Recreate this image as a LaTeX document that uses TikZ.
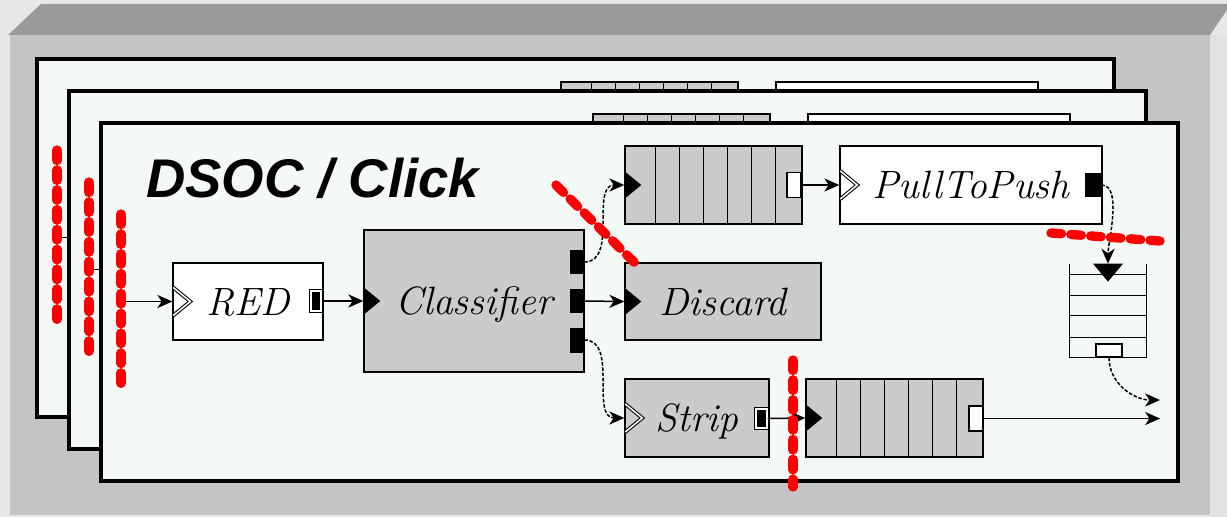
\documentclass[tikz,border=0pt]{standalone}
\usepackage{fontspec}
\newfontfamily\titlefont{Liberation Sans}
\usepackage{tikz}
\usetikzlibrary{calc,arrows.meta}
\definecolor{lidgray}{HTML}{9B9B9B}
\definecolor{panelgray}{HTML}{C4C4C4}
\definecolor{sidegray}{HTML}{E2E2E2}
\definecolor{outergray}{HTML}{E8E8EA}
\definecolor{sheetfill}{HTML}{F5F9F6}
\definecolor{elemgray}{HTML}{C9CCC9}
\tikzset{
  sheetbox/.style={draw=black,fill=sheetfill,line width=2.8pt},
  sheettitle/.style={font=\titlefont\bfseries\itshape\fontsize{31}{36}\selectfont},
  elem/.style={draw,fill=white,line width=0.85pt,inner sep=0pt,text depth=0pt,
    font=\fontsize{22.5}{26}\selectfont\itshape},
  grayelem/.style={elem,fill=elemgray},
  slot/.style={line width=0.85pt},
  pushport/.style={fill=black,inner sep=0pt,minimum width=0.28cm,minimum height=0.5cm},
  pullport/.style={draw,fill=white,line width=0.8pt,inner sep=0pt,
    minimum width=0.28cm,minimum height=0.5cm},
  dualport/.style={draw,double=white,double distance=0.9pt,line width=0.7pt,
    fill=black,inner sep=0pt},
  pullin/.style={draw=black,double=white,double distance=0.9pt,line width=0.6pt},
  flow/.style={-{Stealth[length=8.5pt,width=7.5pt,inset=2.5pt]},line width=0.85pt},
  pullflow/.style={flow,dash pattern=on 2pt off 1pt},
  cutline/.style={red,line width=5.3pt,line cap=round,dash pattern=on 6pt off 5.3pt}
}

% text is set on the front sheet only
\newcommand\lbl[1]{\ifnum\k=0 #1\fi}

% one sheet of the stack
\newcommand\drawlayer{%
  \draw[sheetbox] (101,123) rectangle (1178,481);
  \ifnum\k=0
    \node[sheettitle,anchor=base west] (ttl) at (140,197) {DSOC / Click};
  \fi

  % elements
  \coordinate (src) at (121,301.5);
  \node[elem,minimum width=3cm,minimum height=1.54cm] (red) at (248,301.5) {\lbl{RED}};
  \node[grayelem,minimum width=4.4cm,minimum height=2.84cm] (cls) at (474,301) {\lbl{Classifier}};
  \node[grayelem,minimum width=3.54cm,minimum height=1.56cm] (q1) at (713.5,185) {};
  \node[elem,minimum width=5.24cm,minimum height=1.56cm] (ptp) at (971,185) {\lbl{PullToPush}};
  \node[grayelem,minimum width=3.92cm,minimum height=1.54cm] (dsc) at (723,301.5) {\lbl{Discard}};
  \node[grayelem,minimum width=2.88cm,minimum height=1.56cm] (stp) at (697,418) {\lbl{Strip}};
  \node[grayelem,minimum width=3.54cm,minimum height=1.56cm] (q2) at (894.5,418) {};
  \node[minimum width=1.52cm,minimum height=1.86cm,inner sep=0pt] (stk) at (1108,310.5) {};

  % queue slots
  \foreach \c in {31,55,...,151}{
    \draw[slot] ($(q1.north west)+(\c,0)$) -- ($(q1.south west)+(\c,0)$);
    \draw[slot] ($(q2.north west)+(\c,0)$) -- ($(q2.south west)+(\c,0)$);
  }
  \draw[slot] (stk.north west) -- (stk.south west) -- (stk.south east) -- (stk.north east);
  \foreach \r in {11,32,52,74}
    \draw[slot] ($(stk.north west)+(0,\r)$) -- ($(stk.north east)+(0,\r)$);

  % ports
  \node[dualport,minimum width=0.2cm,minimum height=0.4cm] (redout) at (316,301) {};
  \node[pushport] (co1) at (577,262) {};
  \node[pushport] (co2) at (577,301) {};
  \node[pushport] (co3) at (577,340) {};
  \node[pullport] (q1out) at (794,185) {};
  \node[pushport,minimum width=0.32cm,minimum height=0.48cm] (ptpout) at (1093,185) {};
  \node[dualport,minimum width=0.22cm,minimum height=0.38cm] (stpout) at (761.5,418.5) {};
  \node[pullport] (q2out) at (976,418.5) {};
  \node[pullport,minimum width=0.52cm,minimum height=0.26cm] (stkout) at (1109,350.5) {};

  % inputs
  \foreach \n in {cls,q1,dsc,q2}
    \fill (\n.west) ++(0,-14) -- ++(17,14) -- ++(-17,14) -- cycle;
  \foreach \n in {red,ptp,stp}
    \draw[pullin] (\n.west) ++(1,-14) -- ++(17,14) -- ++(-17,14);
  \fill (stk.north) ++(-15,0) -- ++(30,0) -- ++(-15,18) -- cycle;

  % connections
  \coordinate (snk1) at (1160,400);
  \coordinate (snk2) at (1160,418.5);
  \draw[flow] (src) -- (red.west);
  \draw[flow] (redout.east) -- (cls.west);
  \draw[pullflow] (co1.east) to[out=0,in=180] (q1.west);
  \draw[flow] (co2.east) -- (dsc.west);
  \draw[pullflow] (co3.east) to[out=0,in=180] (stp.west);
  \draw[flow] (q1out.east) -- (ptp.west);
  \draw[pullflow] (ptpout.east) to[out=0,in=90,looseness=0.7] (stk.north);
  \draw[flow] (stpout.east) -- (q2.west);
  \draw[pullflow] (stkout.south) to[out=-90,in=180] (snk1);
  \draw[flow] (q2out.east) -- (snk2);

  % cuts
  \draw[cutline] (121,214) -- (121,385);
  \draw[cutline] (556,185) -- (639,267);
  \draw[cutline] (1051,233) -- (1160,241);
  \draw[cutline] (793,360) -- (793,487);
}

\begin{document}
\begin{tikzpicture}[x=0.02cm,y=-0.02cm]
  \useasboundingbox (0,0) rectangle (1227,517);
  % case
  \fill[outergray] (0,0) rectangle (1227,517);
  \fill[panelgray] (10,35) rectangle (1210,515);
  \fill[sidegray] (1210,35) rectangle (1227,517);
  \fill[lidgray] (41,4) -- (1227,4) -- (1227,10) -- (1210,35) -- (8,35) -- cycle;

  % three sheets, back to front
  \foreach \k in {2,1,0}{
    \begin{scope}[shift={(-32*\k,-32*\k)}]
      \drawlayer
    \end{scope}
  }
\end{tikzpicture}
\end{document}
